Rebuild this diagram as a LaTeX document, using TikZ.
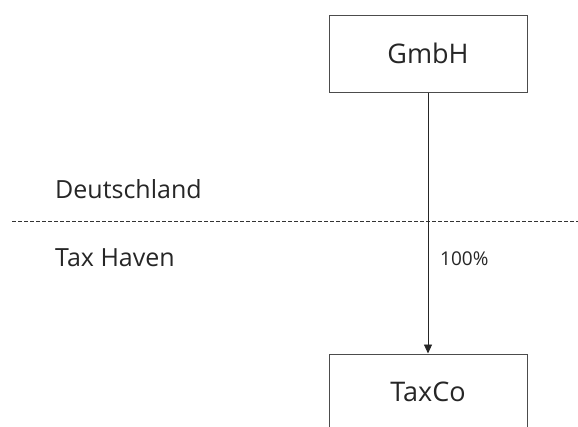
\documentclass[tikz,border=0pt]{standalone}
\usepackage{fontspec}
\setmainfont{Open Sans}
\usetikzlibrary{arrows.meta}
\begin{document}
\begin{tikzpicture}[x=1pt,y=-1pt,
  entity/.style={draw=black!70, line width=1pt, minimum width=198pt, inner sep=0pt, text=black!85, font=\fontsize{27}{29}\selectfont},
  label/.style={anchor=base west, inner sep=0pt, text=black!85, font=\fontsize{25}{27}\selectfont},
  pct/.style={anchor=base west, inner sep=0pt, text=black!85, font=\fontsize{19}{21}\selectfont},
  link/.style={draw=black!85, line width=0.9pt, -{Triangle[length=9pt,width=8pt]}},
  border/.style={draw=black!80, line width=0.8pt, dash pattern=on 3.5pt off 2.5pt}]
\useasboundingbox (0,0) rectangle (578,426);
\fill[white] (0,0) rectangle (578,426);
\node[entity, minimum height=77pt] (gmbh) at (428,53.5) {GmbH};
\node[entity, minimum height=76pt] (taxco) at (428,392) {TaxCo};
\coordinate (dl) at (12,221);
\coordinate (dr) at (578,221);
\draw[border] (dl) -- (dr);
\node[label] (de) at (55,198) {Deutschland};
\node[label] (th) at (55,266) {Tax Haven};
\draw[link] (gmbh) -- (taxco);
\node[pct] (p) at (440,265) {100\%};
\end{tikzpicture}
\end{document}
